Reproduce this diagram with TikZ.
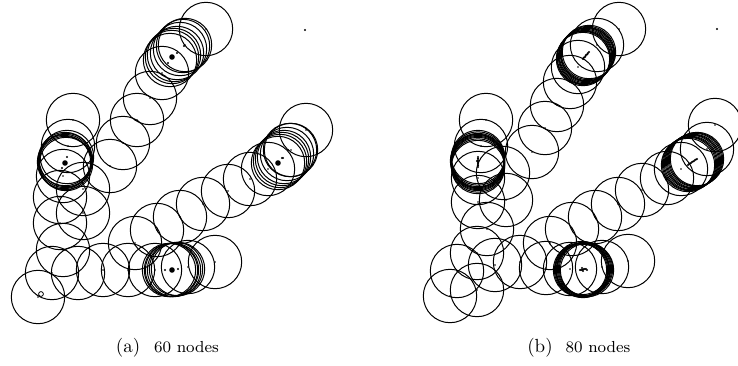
\documentclass[tikz,border=0pt]{standalone}
\usepackage{graphicx}
\begin{document}
\begin{tikzpicture}[x=1pt,y=-1pt,
  ring/.style={draw=black,line width=1pt},
  sdot/.style={fill=black},
  capbig/.style={anchor=base,inner sep=0pt},
  capsmall/.style={anchor=base,inner sep=0pt}]
\useasboundingbox (0,0) rectangle (738,365);
\def\R{26.7pt}
% ---------- panel (a) ----------
\foreach \x/\y in {38/297,52/273,78/273,103/270,128/270,63/250,60/223,83/213,60/197,83/189,
  135/243,157/230,180/217,203/204,228/191,250/179,110/166,123/143,137/120,150/98,162/73,
  185/45,206/29,73/120,68/146,291/150,306/130,215/262,155/270,188/267,268/169,63/176}
  {\draw[ring] (\x,\y) circle[radius=\R]; \fill[sdot] (\x,\y) circle[radius=0.8pt];}
% clusters (a)
\foreach \x/\y in {65/159,65/161,64/162,65/163,66/164,66/160,67/157,
  169/270,171/270,172/270,174/270,176/269,178/269,
  278/163,280/161,282/159,284/157,287/154,290/150,
  170/60,172/57,174/55,177/53,180/49,183/46}
  {\draw[ring] (\x,\y) circle[radius=\R];}
\foreach \x/\y in {172/57,65/163,278/163,172/270}
  {\fill[sdot] (\x,\y) circle[radius=2.8pt];}
\foreach \x/\y in {184/46,177/53,168/63,67/157,62/168,288/150,282/158,
  165/270,178/269,283/158}
  {\fill[sdot] (\x,\y) circle[radius=1.1pt];}
\draw[line width=0.8pt] (41,294) circle[radius=2.4pt];
\fill[sdot] (305,30) circle[radius=1.2pt];
% ---------- panel (b) ----------
\foreach \x/\y in {486/120,481/146,478/178,478/202,503/173,506/200,487/229,477/253,457/271,
  495/265,450/296,477/290,520/262,546/268,550/243,572/229,595/217,618/204,642/190,667/178,
  681/169,707/149,715/125,628/261,570/269,602/267,532/152,545/128,557/105,570/82,578/67,
  597/45,619/29}
  {\draw[ring] (\x,\y) circle[radius=\R]; \fill[sdot] (\x,\y) circle[radius=0.9pt];}
% clusters (b)
\foreach \x/\y in {478/157,478/158.5,478/160,478/161,478/162,478/163,478/164,478/165.5,478/167,477/161,
  580/270,581/270,582/270,583/269.5,584/269,585/269,586/269,587/270,583/271,582/268,
  688/165,689/164,690/163.5,691/163,692/162,693/161.5,694/161,695/160,696/159.5,697/159,
  583/59,583.5/58,584/57.5,585/57,585.5/56,586/55,587/54.5,587.5/54,588/53,589/52}
  {\draw[ring] (\x,\y) circle[radius=\R]; \fill[sdot] (\x,\y) circle[radius=1.2pt];}
\fill[sdot] (717,29) circle[radius=1.2pt];
% ---------- captions ----------
\node[capbig] (capa) at (128,352) {\scalebox{1.9}{\normalsize (a)}};
\node[capsmall] (capan) at (186.5,352) {\scalebox{2.0}{\fontsize{8}{9}\selectfont 60 nodes}};
\node[capbig] (capb) at (540,352) {\scalebox{1.9}{\normalsize (b)}};
\node[capsmall] (capbn) at (598,352) {\scalebox{2.0}{\fontsize{8}{9}\selectfont 80 nodes}};
\end{tikzpicture}
\end{document}
